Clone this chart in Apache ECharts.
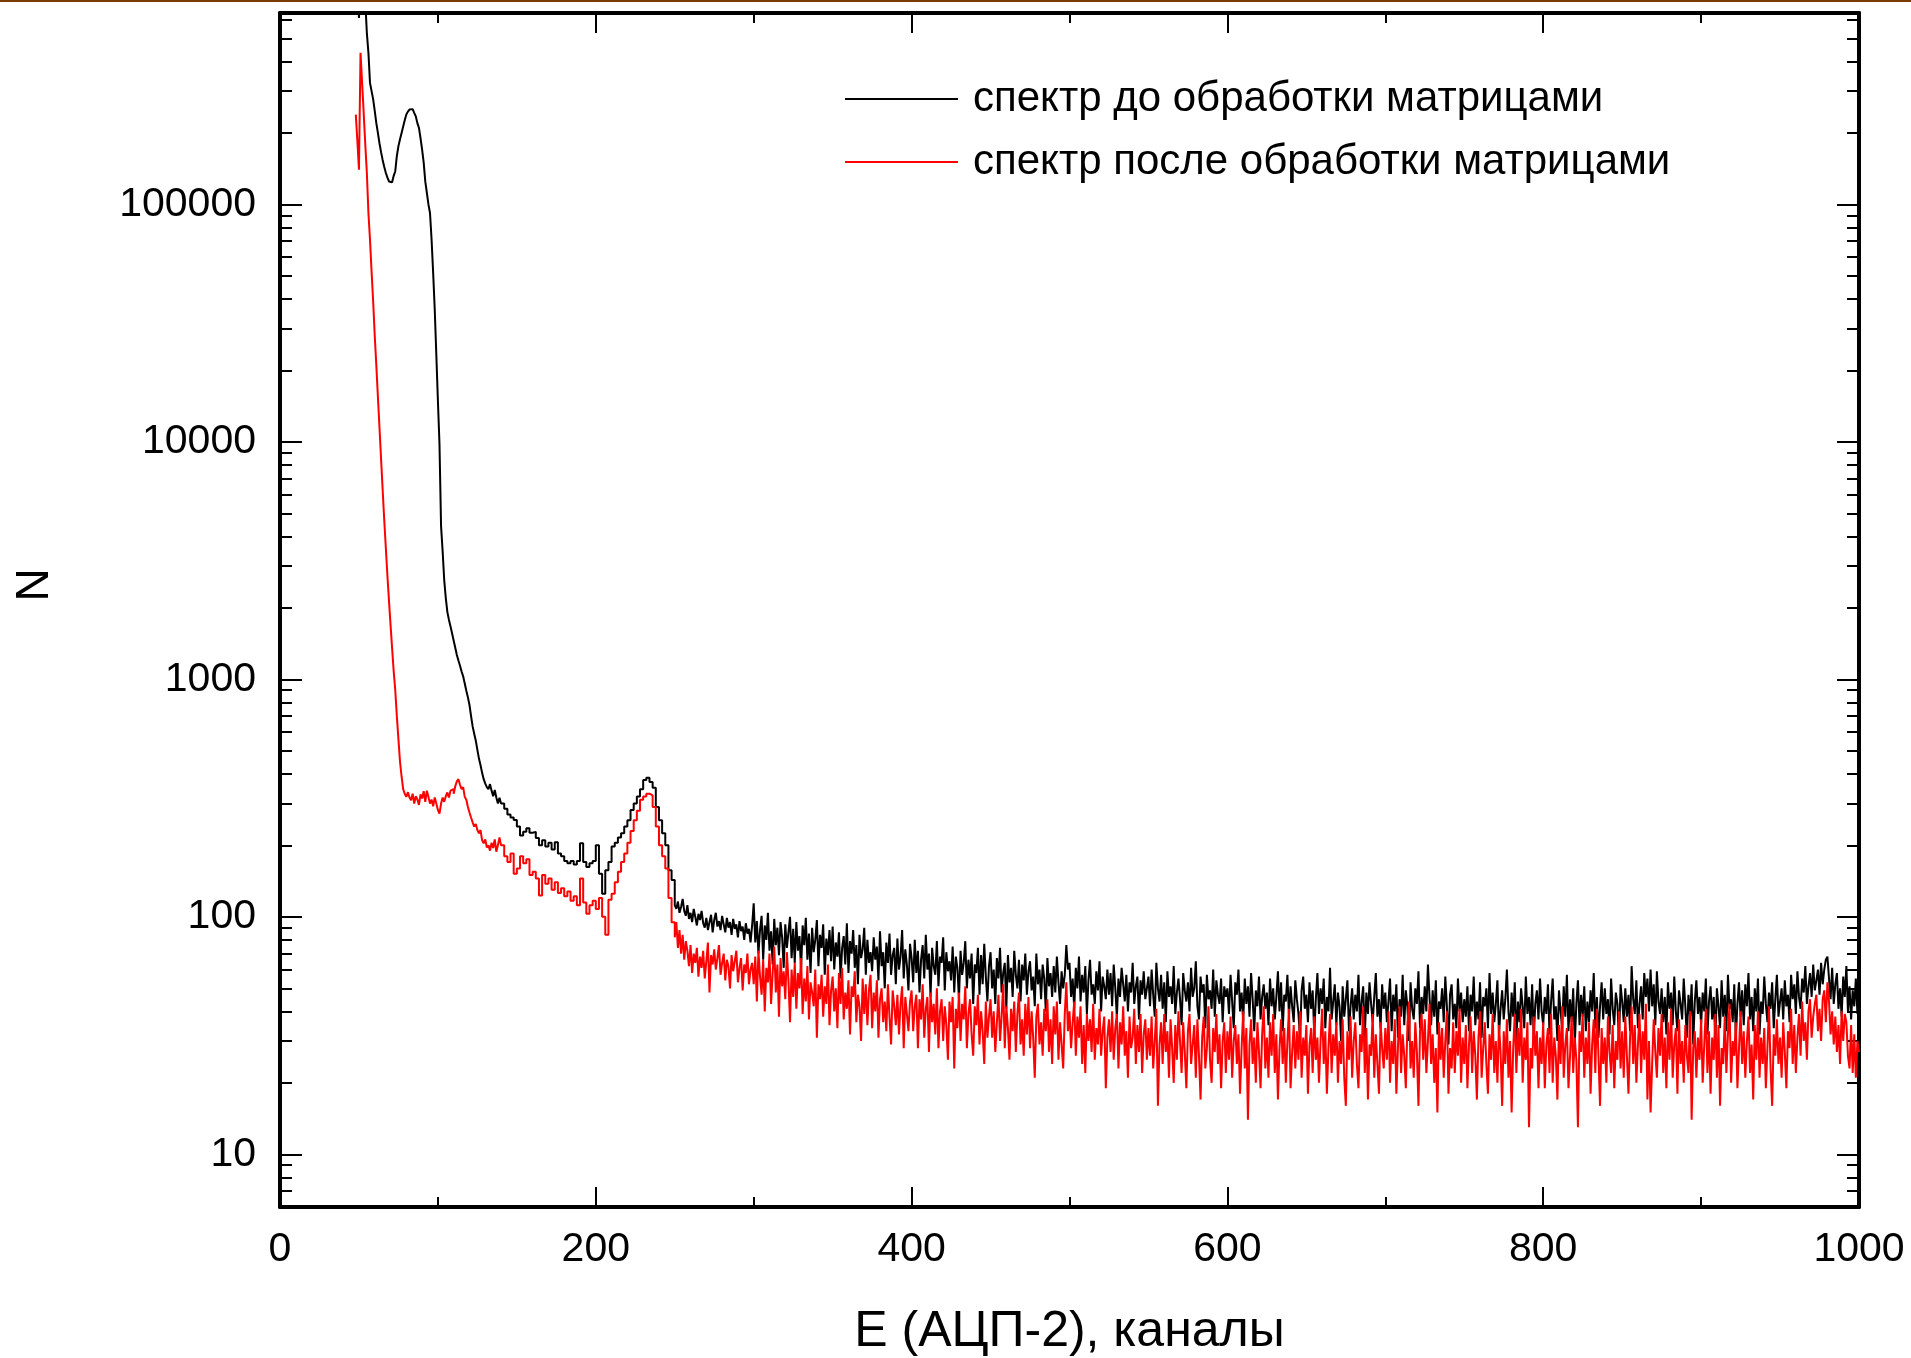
<!DOCTYPE html>
<html>
<head>
<meta charset="utf-8">
<title>Спектр до и после обработки матрицами</title>
<script src="https://cdn.jsdelivr.net/npm/echarts@6/dist/echarts.min.js"></script>
<style>
  html, body { margin: 0; padding: 0; background: #fff; }
  #chart { width: 1911px; height: 1358px; }
</style>
</head>
<body>
<div id="chart"></div>
<script>
// --- data ---
const SERIES_NAMES = ['спектр до обработки матрицами', 'спектр после обработки матрицами'];

const X_TICKS = [0, 200, 400, 600, 800, 1000];
const Y_TICKS = [10, 100, 1000, 10000, 100000];
const Y_MIN = 6;
const Y_MAX = 640000;

// steep part, one value per channel
const BLACK_HEAD_START = 49; // ch 49..139
const blackHead = [
  900000, 610000, 850000, 1000000, 900000, 720000, 528000, 435000, 325000, 300000, 277000,
  248000, 220000, 200000, 181000, 166000, 154000, 144000, 136000, 130000, 125000,
  124000, 126000, 132000, 138000, 160000, 176000, 188000, 200000, 213000, 226000,
  239000, 246000, 251000, 252000, 250000, 243000, 235000, 220000, 210000, 190000,
  170000, 150000, 125000, 112000, 100000, 92000, 71000, 51400, 36000, 23300,
  14900, 9800, 4420, 3460, 2620, 2200, 1920, 1780, 1670, 1560,
  1455, 1360, 1267, 1200, 1142, 1080, 1030, 960, 896, 840,
  780, 700, 634, 590, 552, 505, 464, 435, 404, 380,
  364, 352, 345, 362, 340, 322, 342, 318, 300, 317
];
const RED_HEAD_START = 48; // ch 48..139
const redHead = [
  239000, 185000, 140000, 435000, 325000, 243000, 179000, 136000, 92000, 71000, 52000, 39000,
  28000, 21000, 15500, 11500, 8500, 6300, 4700, 3600, 2750, 2150,
  1700, 1350, 1080, 900, 700, 560, 450, 390, 345, 330,
  320, 335, 318, 310, 330, 300, 322, 312, 296, 328,
  315, 338, 305, 340, 320, 300, 312, 292, 318, 300,
  282, 272, 300, 318, 305, 322, 334, 318, 340, 345,
  330, 355, 372, 380, 360, 345, 352, 320, 311, 290,
  275, 262, 250, 240, 246, 232, 225, 232, 210, 204,
  212, 196, 200, 190, 205, 195, 212, 188, 200, 216
];

// ch 140..248, every second channel
const MID_START = 140;
const MID_STEP = 2;
const blackMid = [
  300, 285, 270, 262, 256, 240,
  220, 228, 236, 226, 228, 215, 200, 210, 198, 205, 192, 206, 185, 180, 172, 168, 172, 166, 172, 204, 170, 162, 168, 172, 200,
  152, 125, 157, 170, 198, 205, 216, 225, 240, 255, 282, 300, 321, 345, 377, 385, 370, 350, 290, 255, 225, 200, 157, 143
];
const redMid = [
  200, 180, 170, 185, 152, 160,
  180, 168, 175, 150, 155, 145, 123, 150, 138, 145, 130, 140, 126, 132, 122, 128, 117, 122, 112, 145, 115, 103, 112, 117, 108,
  120, 100, 84, 118, 125, 140, 155, 170, 185, 205, 230, 255, 280, 311, 321, 330, 325, 290, 240, 200, 180, 160, 120, 95
];

// ch 250..1000, one value per channel (25 channels per row)
const TAIL_START = 250;
const blackTail = [
  112, 108, 116, 104, 110, 119, 106, 101, 112, 98, 104, 95, 108, 100, 92, 103, 97, 106, 94, 90, 99, 88, 95, 102, 86,
  97, 104, 91, 96, 88, 101, 93, 86, 99, 90, 95, 84, 98, 89, 93, 82, 96, 87, 91, 80, 94, 85, 89, 78, 92,
  114, 78, 96, 70, 88, 101, 66, 92, 80, 104, 72, 87, 63, 98, 76, 90, 69, 95, 82, 61, 93, 74, 86, 100, 67,
  89, 64, 95, 72, 83, 60, 92, 76, 99, 66, 85, 58, 90, 71, 80, 97, 62, 84, 74, 93, 57, 81, 69, 88, 65,
  91, 60, 78, 68, 86, 55, 74, 83, 63, 94, 58, 79, 70, 88, 61, 76, 52, 84, 67, 73, 90, 57, 80, 64, 71,
  59, 82, 66, 75, 54, 87, 62, 71, 50, 78, 64, 85, 57, 69, 74, 52, 81, 60, 68, 88, 55, 73, 63, 49, 77,
  67, 53, 80, 58, 72, 48, 66, 76, 55, 84, 60, 70, 46, 74, 62, 57, 79, 51, 68, 64, 82, 49, 71, 59, 65,
  54, 75, 48, 68, 61, 45, 72, 57, 64, 79, 50, 66, 55, 70, 43, 63, 58, 74, 47, 69, 52, 77, 56, 44, 62,
  71, 50, 60, 43, 67, 55, 74, 48, 58, 64, 41, 69, 53, 61, 46, 72, 57, 50, 66, 44, 63, 54, 70, 47, 59,
  65, 49, 56, 42, 70, 52, 60, 45, 63, 55, 40, 67, 51, 58, 46, 62, 48, 68, 53, 43, 59, 50, 57, 76, 60,
  64, 46, 55, 41, 61, 50, 68, 44, 57, 48, 62, 39, 54, 66, 47, 52, 43, 59, 49, 65, 40, 56, 51, 45, 60,
  47, 58, 42, 63, 50, 38, 55, 46, 61, 52, 44, 57, 40, 53, 48, 64, 43, 51, 56, 37, 54, 47, 59, 45, 50,
  56, 42, 60, 47, 38, 64, 50, 44, 57, 41, 53, 36, 59, 46, 51, 43, 62, 39, 48, 55, 45, 35, 58, 49, 44,
  53, 40, 61, 46, 50, 65, 42, 37, 56, 48, 52, 34, 57, 45, 49, 41, 60, 38, 54, 47, 43, 55, 36, 51, 46,
  50, 39, 57, 44, 34, 53, 47, 60, 40, 48, 36, 55, 43, 51, 38, 58, 45, 33, 49, 42, 56, 37, 46, 52, 41,
  48, 35, 55, 42, 50, 37, 46, 59, 40, 53, 33, 47, 44, 57, 38, 51, 42, 36, 54, 45, 39, 31, 49, 56, 41,
  47, 36, 53, 41, 49, 32, 45, 58, 39, 50, 43, 55, 34, 46, 40, 61, 37, 44, 52, 35, 48, 42, 30, 51, 38,
  45, 54, 33, 42, 50, 37, 47, 40, 57, 35, 44, 51, 31, 48, 39, 53, 43, 36, 46, 58, 38, 45, 34, 52, 41,
  48, 36, 44, 55, 33, 47, 40, 52, 31, 45, 38, 57, 35, 49, 42, 30, 53, 41, 37, 50, 43, 59, 34, 46, 39,
  51, 40, 63, 46, 35, 49, 38, 54, 32, 44, 41, 50, 36, 56, 42, 29, 47, 52, 37, 43, 34, 55, 40, 48, 36,
  45, 38, 51, 33, 47, 40, 56, 35, 44, 37, 53, 31, 46, 42, 50, 34, 58, 39, 48, 36, 43, 54, 32, 41, 49,
  37, 45, 60, 40, 33, 48, 38, 53, 30, 44, 36, 50, 42, 34, 56, 39, 46, 35, 52, 31, 43, 49, 37, 55, 40,
  35, 46, 39, 52, 32, 44, 55, 37, 42, 30, 49, 40, 34, 51, 38, 57, 33, 45, 36, 50, 29, 43, 54, 35, 47,
  38, 51, 33, 44, 36, 49, 40, 58, 34, 46, 31, 42, 53, 37, 50, 39, 45, 32, 55, 41, 35, 48, 43, 30, 52,
  44, 36, 50, 38, 47, 33, 62, 45, 39, 54, 34, 43, 51, 37, 58, 46, 55, 40, 60, 42, 52, 35, 59, 44, 39,
  50, 36, 46, 32, 53, 41, 48, 35, 56, 40, 33, 49, 43, 37, 55, 42, 31, 47, 38, 52, 29, 44, 54, 39, 46,
  35, 48, 40, 55, 32, 44, 51, 37, 46, 30, 50, 42, 34, 54, 38, 47, 33, 57, 41, 45, 36, 52, 31, 43, 53,
  38, 49, 35, 52, 42, 58, 37, 46, 33, 50, 40, 55, 32, 44, 39, 56, 43, 36, 48, 41, 53, 34, 45, 57, 38,
  44, 50, 37, 54, 42, 47, 36, 57, 45, 52, 39, 59, 46, 41, 55, 48, 62, 43, 51, 58, 46, 63, 49, 54, 60,
  47, 64, 52, 60, 66, 68, 55, 45, 61, 43, 52, 58, 41, 50, 38, 56, 46, 62, 40, 51, 37, 49, 42, 55, 39,
  44
];
const redTail = [
  82, 95, 74, 88, 70, 84, 66, 79, 72, 62, 76, 58, 70, 64, 74, 56, 68, 61, 72, 55, 65, 78, 48, 69, 63,
  73, 60, 67, 76, 57, 64, 70, 54, 66, 62, 50, 69, 59, 65, 72, 53, 61, 67, 49, 63, 58, 70, 52, 60, 64,
  52, 68, 44, 72, 56, 47, 66, 40, 61, 53, 70, 43, 58, 75, 48, 63, 38, 67, 51, 59, 45, 71, 54, 36, 60,
  46, 64, 41, 58, 50, 67, 39, 55, 44, 62, 37, 53, 48, 42, 60, 31, 52, 45, 57, 38, 51, 43, 63, 35, 49,
  56, 40, 50, 34, 58, 43, 61, 37, 48, 41, 54, 32, 51, 46, 59, 36, 47, 42, 30, 55, 39, 52, 35, 49, 57,
  34, 48, 40, 54, 31, 45, 50, 36, 44, 33, 52, 38, 29, 49, 42, 35, 47, 32, 43, 51, 28, 46, 39, 33, 44,
  49, 33, 42, 47, 28, 45, 37, 52, 31, 41, 46, 27, 48, 36, 43, 32, 50, 28, 40, 45, 30, 42, 35, 25, 44,
  36, 46, 23, 41, 34, 48, 30, 43, 37, 51, 28, 39, 45, 32, 26, 42, 35, 47, 29, 40, 33, 24, 44, 31, 38,
  45, 31, 40, 27, 36, 47, 30, 38, 52, 28, 42, 34, 25, 41, 33, 44, 27, 39, 48, 29, 37, 26, 43, 32, 46,
  28, 40, 31, 21, 38, 43, 29, 36, 26, 41, 33, 45, 27, 37, 24, 42, 32, 44, 25, 36, 29, 23, 39, 53, 33,
  40, 28, 36, 44, 26, 38, 31, 42, 24, 35, 22, 39, 30, 37, 27, 43, 25, 34, 29, 41, 26, 33, 38, 19, 31,
  37, 27, 40, 25, 34, 39, 23, 36, 29, 42, 26, 33, 21, 38, 28, 31, 41, 24, 35, 27, 39, 22, 32, 37, 25,
  34, 26, 38, 23, 30, 41, 16, 29, 36, 24, 39, 27, 33, 21, 37, 28, 20, 35, 25, 40, 30, 22, 36, 27, 19,
  33, 39, 24, 29, 35, 21, 37, 26, 17, 31, 38, 23, 28, 42, 25, 20, 34, 27, 39, 24, 32, 19, 30, 36, 22,
  33, 25, 38, 21, 30, 35, 24, 32, 18, 28, 40, 23, 34, 14, 29, 37, 24, 31, 20, 36, 27, 19, 32, 42, 23,
  31, 21, 36, 26, 39, 22, 32, 17, 28, 37, 24, 34, 20, 30, 41, 19, 27, 35, 23, 33, 25, 40, 21, 31, 26,
  35, 18, 29, 34, 22, 38, 25, 31, 20, 30, 41, 24, 33, 18, 28, 39, 22, 32, 26, 36, 20, 30, 24, 37, 21,
  16, 33, 25, 38, 21, 30, 36, 24, 19, 32, 27, 42, 22, 34, 17, 29, 26, 39, 21, 32, 24, 18, 36, 28, 23,
  34, 25, 40, 20, 30, 24, 37, 18, 28, 42, 22, 32, 26, 19, 35, 44, 23, 30, 21, 36, 27, 16, 33, 39, 25,
  37, 22, 30, 43, 24, 32, 20, 28, 15, 36, 25, 34, 21, 30, 40, 18, 28, 23, 36, 22, 33, 26, 41, 20, 31,
  24, 35, 19, 29, 38, 22, 33, 26, 17, 31, 40, 21, 28, 36, 24, 18, 32, 25, 39, 22, 30, 20, 35, 27, 16,
  33, 24, 37, 21, 30, 15, 28, 39, 22, 34, 26, 41, 20, 31, 25, 36, 13, 28, 23, 38, 26, 33, 19, 31, 24,
  36, 19, 29, 34, 22, 39, 20, 31, 26, 17, 35, 24, 42, 21, 29, 34, 19, 26, 38, 22, 31, 25, 13, 33, 27,
  39, 21, 31, 24, 36, 18, 29, 37, 22, 41, 26, 16, 34, 24, 31, 20, 38, 27, 22, 35, 19, 30, 25, 40, 23,
  33, 21, 38, 26, 18, 31, 42, 24, 35, 20, 29, 39, 22, 33, 25, 43, 17, 30, 15, 24, 37, 27, 21, 34, 26,
  39, 22, 31, 19, 36, 25, 41, 21, 29, 34, 18, 37, 24, 30, 20, 35, 26, 22, 40, 14, 28, 33, 21, 31, 25,
  37, 20, 29, 41, 22, 33, 18, 31, 25, 39, 21, 35, 16, 28, 24, 38, 22, 32, 43, 20, 30, 26, 36, 19, 28,
  40, 24, 33, 21, 30, 38, 22, 29, 17, 35, 25, 40, 21, 31, 24, 34, 19, 28, 42, 23, 16, 32, 26, 37, 24,
  31, 21, 36, 27, 19, 33, 28, 41, 24, 35, 22, 31, 39, 26, 44, 30, 36, 25, 40, 45, 31, 38, 43, 47, 33,
  41, 30, 45, 49, 36, 53, 44, 32, 40, 29, 38, 27, 35, 24, 40, 30, 39, 36, 26, 23, 35, 22, 32, 21, 30,
  27
];

// --- build [channel, count] pairs ---
function toPairs(headStart, head, mid, tail) {
  const out = [];
  head.forEach((v, i) => out.push([headStart + i, v]));
  mid.forEach((v, i) => out.push([MID_START + i * MID_STEP, v]));
  tail.forEach((v, i) => out.push([TAIL_START + i, v]));
  return out;
}
const blackData = toPairs(BLACK_HEAD_START, blackHead, blackMid, blackTail);
const redData = toPairs(RED_HEAD_START, redHead, redMid, redTail);

// minor ticks of the log axis: 2..9 x 10^k
const Y_MINOR = [];
for (let k = 0; k <= 5; k++) {
  for (let m = 2; m <= 9; m++) {
    const v = m * Math.pow(10, k);
    if (v >= Y_MIN && v <= Y_MAX) Y_MINOR.push(v);
  }
}

const FONT = "'Liberation Sans', Arial, sans-serif";
const AXIS_LINE = { show: true, onZero: false, lineStyle: { color: '#000', width: 4 } };
const TICK_STYLE = { color: '#000', width: 2 };
const GRID_BOX = { left: 280, right: 52, top: 13, bottom: 151, containLabel: false, outerBoundsMode: 'none' };

function minorLogAxis(position) {
  return {
    type: 'log', logBase: 10, gridIndex: 1, position, min: Y_MIN, max: Y_MAX,
    axisLine: { show: false },
    axisTick: { show: true, inside: true, length: 12, customValues: Y_MINOR, lineStyle: TICK_STYLE },
    axisLabel: { show: false },
    splitLine: { show: false }
  };
}

const chart = echarts.init(document.getElementById('chart'));

const option = {
  animation: false,
  backgroundColor: '#ffffff',
  textStyle: { fontFamily: FONT, color: '#000' },
  graphic: [
    { type: 'rect', left: 0, top: 0, shape: { width: 1911, height: 2 }, style: { fill: '#7a3b00' } }
  ],
  legend: {
    orient: 'vertical',
    left: 845,
    top: 78,
    padding: 0,
    icon: 'rect',
    itemWidth: 113,
    itemHeight: 2,
    itemGap: 21,
    selectedMode: false,
    textStyle: { fontSize: 42, color: '#000', fontFamily: FONT, lineHeight: 42, padding: [0, 0, 0, 10] },
    data: SERIES_NAMES
  },
  grid: [Object.assign({}, GRID_BOX), Object.assign({}, GRID_BOX)],
  xAxis: [
    {
      type: 'value', position: 'bottom', min: 0, max: 1000, interval: 200,
      axisLine: AXIS_LINE,
      axisTick: { show: true, inside: true, length: 20, lineStyle: TICK_STYLE },
      minorTick: { show: true, splitNumber: 2, length: 10, lineStyle: TICK_STYLE },
      axisLabel: {
        customValues: X_TICKS, fontSize: 41, margin: 22, color: '#000', fontFamily: FONT,
        formatter: (v) => String(v)
      },
      splitLine: { show: false },
      minorSplitLine: { show: false },
      name: 'E (АЦП-2), каналы',
      nameLocation: 'middle',
      nameGap: 100,
      nameTextStyle: { fontSize: 50, color: '#000', fontFamily: FONT }
    },
    {
      type: 'value', position: 'top', min: 0, max: 1000, interval: 200,
      axisLine: AXIS_LINE,
      axisTick: { show: true, inside: true, length: 20, lineStyle: TICK_STYLE },
      minorTick: { show: true, splitNumber: 2, length: 10, lineStyle: TICK_STYLE },
      axisLabel: { show: false },
      splitLine: { show: false }
    },
    {
      type: 'value', gridIndex: 1, position: 'bottom', min: 0, max: 1000, show: false
    }
  ],
  yAxis: [
    {
      type: 'log', logBase: 10, position: 'left', min: Y_MIN, max: Y_MAX,
      axisLine: AXIS_LINE,
      axisTick: { show: true, inside: true, length: 22, customValues: Y_TICKS, lineStyle: TICK_STYLE },
      axisLabel: {
        customValues: Y_TICKS, fontSize: 41, margin: 24, color: '#000', fontFamily: FONT,
        formatter: (v) => String(Math.round(v))
      },
      splitLine: { show: false },
      name: 'N',
      nameLocation: 'middle',
      nameRotate: 90,
      nameGap: 222,
      nameTextStyle: { fontSize: 46, color: '#000', fontFamily: FONT, padding: [0, 0, 0, 50] }
    },
    {
      type: 'log', logBase: 10, position: 'right', min: Y_MIN, max: Y_MAX,
      axisLine: AXIS_LINE,
      axisTick: { show: true, inside: true, length: 22, customValues: Y_TICKS, lineStyle: TICK_STYLE },
      axisLabel: { show: false },
      splitLine: { show: false }
    },
    minorLogAxis('left'),
    minorLogAxis('right')
  ],
  series: [
    {
      name: SERIES_NAMES[0],
      type: 'line',
      step: 'end',
      xAxisIndex: 0,
      yAxisIndex: 0,
      symbol: 'none',
      color: '#000000',
      lineStyle: { color: '#000000', width: 2 },
      clip: true,
      data: blackData
    },
    {
      name: SERIES_NAMES[1],
      type: 'line',
      step: 'end',
      xAxisIndex: 0,
      yAxisIndex: 0,
      symbol: 'none',
      color: '#ff0000',
      lineStyle: { color: '#ff0000', width: 2 },
      clip: true,
      data: redData
    }
  ]
};

chart.setOption(option);
</script>
</body>
</html>
